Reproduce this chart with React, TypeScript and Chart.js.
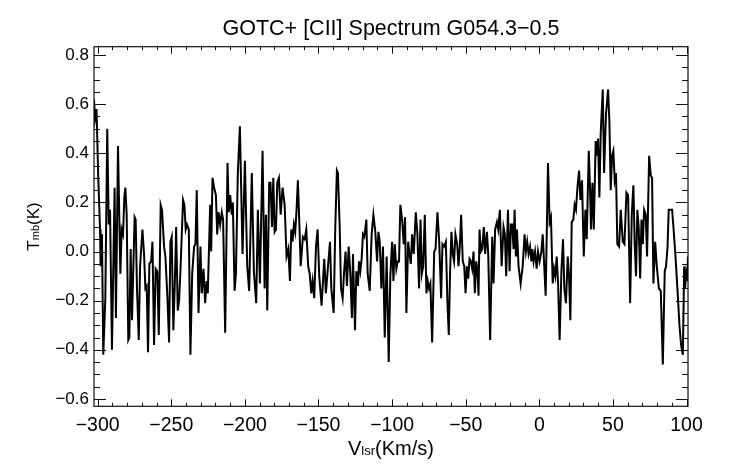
import React, { useEffect, useRef } from "react";
import { Chart, registerables } from "chart.js";

Chart.register(...registerables);

const TITLE = "GOTC+ [CII] Spectrum G054.3\u22120.5";
const X_TICKS = [-300, -250, -200, -150, -100, -50, 0, 50, 100];
const Y_TICKS = [-0.6, -0.4, -0.2, 0.0, 0.2, 0.4, 0.6, 0.8];
const X_MINOR = 10;
const Y_MINOR = 0.05;
const X_MIN = -302.5;
const X_MAX = 101;
const Y_MIN = -0.63;
const Y_MAX = 0.834;

// Spectrum in six segments (velocity km/s, Tmb K)
const VEL_1 = [
  -302.5, -301.8, -300.8, -299.6, -298.4, -298.0, -297.1, -296.2, -294.8, -293.5,
  -292.5, -291.6, -290.3, -288.5, -287.6, -286.2, -284.6, -283.7, -282.8, -281.9,
  -281.2, -280.3, -279.2, -278.5, -277.6, -276.7, -274.9, -274.2, -273.3, -272.1,
  -271.2, -269.6, -268.5, -267.6, -266.7, -265.8, -264.9, -263.7, -262.8, -261.7,
  -260.6, -259.5, -258.5, -257.2, -256.3, -254.9, -254.0, -252.6, -251.5, -250.6,
  -249.7, -248.6, -247.6, -246.7, -245.6, -244.7, -243.8, -242.0, -241.1, -240.2,
  -239.3, -238.1, -237.0, -235.8, -234.5, -233.6,
];
const TMB_1 = [
  0.62, 0.54, 0.58, 0.30, 0.09, -0.06, 0.07, -0.42, -0.19, 0.50,
  0.11, 0.17, -0.40, 0.26, -0.27, 0.43, -0.09, 0.09, 0.07, 0.22,
  0.26, 0.15, -0.36, -0.35, 0.01, -0.28, 0.14, 0.13, -0.15, -0.36,
  -0.06, 0.09, -0.01, -0.15, -0.14, -0.41, -0.05, -0.04, 0.04, -0.38,
  -0.07, -0.08, -0.34, 0.19, 0.17, 0.02, -0.02, -0.19, -0.37, 0.04,
  0.06, -0.32, -0.13, 0.10, -0.24, -0.20, -0.08, 0.21, 0.19, 0.09,
  0.11, 0.09, -0.42, -0.09, 0.02, 0.03,
];

const VEL_2 = [
  -232.7, -231.5, -230.2, -229.3, -228.1, -227.0, -226.0, -225.2, -223.6, -222.9,
  -222.0, -220.9, -219.7, -218.8, -217.9, -216.8, -215.7, -214.8, -213.4, -211.8,
  -210.9, -210.0, -208.9, -208.2, -207.0, -206.1, -204.8, -203.4, -201.6, -200.0,
  -198.4, -197.1, -195.3, -193.9, -192.3, -191.2, -189.8, -188.0, -186.6, -185.7,
  -184.8, -183.5, -182.6, -181.6, -180.7, -179.8, -178.9, -178.0, -176.9, -175.7,
  -174.4, -173.0, -171.7, -170.5, -169.4, -168.5, -167.6, -166.7, -165.8, -164.9,
  -164.0, -163.1, -162.1,
];
const TMB_2 = [
  0.25, -0.25, 0.02, -0.17, -0.07, -0.21, -0.12, -0.17, 0.19, 0.00,
  0.30, 0.26, 0.23, 0.07, 0.16, 0.11, 0.16, 0.13, -0.33, 0.36,
  0.16, 0.23, 0.15, 0.20, -0.16, -0.09, 0.32, 0.51, -0.01, 0.37,
  -0.06, -0.16, 0.32, -0.08, -0.21, 0.17, -0.13, 0.41, -0.15, 0.15,
  -0.24, 0.28, 0.28, 0.10, 0.30, 0.08, 0.09, 0.28, 0.30, 0.15,
  0.26, 0.19, -0.02, 0.01, -0.12, 0.09, 0.04, 0.11, 0.08, 0.17,
  0.29, 0.13, -0.06,
];

const VEL_3 = [
  -160.6, -159.4, -158.3, -157.0, -156.0, -154.9, -154.0, -152.9, -151.7, -150.6,
  -149.5, -147.9, -146.1, -145.0, -143.8, -142.2, -141.3, -139.7, -138.6, -137.5,
  -136.8, -135.6, -134.7, -133.6, -132.7, -131.6, -130.7, -129.5, -128.4, -127.3,
  -126.6, -125.2, -124.3, -123.2, -122.5, -121.6, -120.7, -119.8, -118.9, -117.5,
  -116.6, -115.2, -113.9, -112.7, -111.4, -110.2, -109.3, -108.4, -107.3, -106.2,
  -105.0, -103.7, -102.3, -101.2, -100.0, -99.1, -98.2, -97.1, -96.2, -95.3,
  -94.4, -93.2, -92.1, -91.2, -90.3,
];
const TMB_3 = [
  0.06, 0.05, 0.09, -0.06, -0.09, -0.17, -0.12, -0.19, 0.02, 0.09,
  -0.10, -0.22, -0.03, -0.17, -0.08, 0.04, -0.15, -0.25, 0.10, 0.33,
  0.32, 0.10, -0.15, -0.19, -0.09, 0.00, -0.14, 0.02, -0.09, -0.27,
  -0.01, -0.32, -0.08, -0.14, -0.04, -0.08, -0.03, 0.07, 0.06, 0.13,
  -0.09, -0.16, 0.07, 0.15, 0.08, -0.04, 0.08, 0.04, -0.15, 0.02,
  -0.35, -0.02, -0.45, -0.10, 0.04, -0.12, 0.03, -0.07, -0.04, -0.04,
  0.19, 0.13, 0.03, 0.14, -0.25,
];

const VEL_4 = [
  -89.1, -88.2, -87.3, -86.4, -85.3, -83.9, -82.8, -81.7, -80.7, -79.8,
  -78.9, -77.8, -76.7, -75.8, -74.9, -74.0, -72.8, -71.4, -70.5, -69.2,
  -68.0, -66.7, -65.8, -64.7, -63.5, -62.4, -61.5, -60.6, -59.7, -58.8,
  -57.9, -57.0, -55.8, -54.9, -54.0, -53.1, -52.0, -51.0, -50.1, -49.2,
  -48.3, -47.4, -46.5, -45.6, -44.7, -43.8, -42.9, -42.0, -41.3, -40.6,
  -39.7, -38.8, -37.7, -36.8, -35.6, -34.7, -33.4, -32.0, -31.1, -30.0,
  -28.8, -27.9, -26.8, -25.6, -24.3, -23.4, -22.5, -21.3, -20.2,
];
const TMB_4 = [
  0.04, -0.01, -0.05, 0.07, -0.01, 0.16, 0.07, -0.15, 0.13, -0.09,
  -0.06, 0.15, -0.17, -0.12, -0.15, -0.13, -0.37, 0.00, 0.01, 0.16,
  0.04, -0.19, 0.03, 0.02, 0.04, -0.21, -0.34, -0.08, 0.08, -0.01,
  -0.04, 0.07, 0.03, -0.06, 0.02, 0.15, -0.04, -0.06, -0.17, -0.06,
  -0.11, -0.03, -0.04, -0.07, 0.00, -0.17, -0.04, -0.08, -0.18, 0.09,
  0.00, 0.01, 0.10, -0.01, 0.08, -0.01, -0.36, 0.06, -0.13, 0.09,
  0.12, 0.09, 0.17, -0.06, 0.10, 0.07, -0.10, 0.17, -0.08,
];

const VEL_5 = [
  -19.3, -18.4, -17.5, -16.8, -15.9, -15.2, -14.1, -12.7, -11.3, -10.0,
  -9.1, -8.2, -7.3, -6.3, -5.4, -4.7, -3.9, -2.9, -1.8, -0.9,
  0.2, 1.4, 2.3, 3.2, 4.3, 5.9, 7.0, 7.9, 9.1, 10.0,
  10.9, 11.8, 12.7, 13.8, 15.0, 16.1, 17.0, 18.1, 19.3, 20.2,
  21.1, 22.0, 23.1, 24.0, 24.9, 25.9, 27.0, 27.9, 29.0, 30.2,
  31.3, 32.2, 33.6, 34.5, 35.1, 36.1, 37.0, 38.3, 39.2, 39.9,
  40.8,
];
const TMB_5 = [
  0.11, 0.11, 0.01, 0.17, -0.02, 0.09, -0.06, -0.13, -0.06, 0.07,
  0.00, 0.04, -0.01, 0.02, -0.04, 0.01, -0.04, 0.00, -0.07, 0.00,
  -0.04, 0.00, 0.07, -0.04, -0.18, 0.36, 0.12, 0.14, -0.13, -0.07,
  -0.10, -0.02, -0.12, -0.36, -0.08, 0.05, -0.15, -0.21, -0.02, -0.10,
  -0.28, 0.12, 0.13, 0.19, 0.17, 0.26, 0.33, 0.21, 0.29, -0.02,
  0.17, 0.05, 0.41, 0.25, 0.09, 0.28, 0.09, 0.45, 0.39, 0.46,
  0.22,
];

const VEL_6 = [
  41.7, 43.1, 44.0, 45.3, 46.7, 47.6, 48.5, 49.4, 50.3, 51.2,
  52.1, 53.0, 54.2, 55.3, 56.7, 57.8, 59.2, 60.3, 61.7, 62.8,
  63.9, 64.8, 65.7, 66.6, 67.5, 68.5, 69.4, 70.3, 71.2, 72.3,
  73.2, 74.6, 75.7, 76.6, 77.5, 78.7, 79.8, 81.2, 82.5, 83.9,
  85.2, 86.1, 87.1, 87.9, 89.3, 90.2, 91.1, 92.5, 93.9, 95.2,
  96.3, 97.5, 98.4, 99.0, 99.7, 100.4, 101.0,
];
const TMB_6 = [
  0.48, 0.66, 0.32, 0.56, 0.66, 0.53, 0.25, 0.39, 0.41, 0.29,
  0.32, 0.03, 0.02, 0.17, 0.04, 0.03, 0.24, 0.23, -0.21, 0.15,
  0.27, 0.03, -0.10, 0.17, 0.10, -0.11, 0.13, 0.03, 0.17, 0.15,
  -0.02, 0.39, 0.31, 0.30, -0.13, 0.04, -0.06, -0.15, -0.16, -0.46,
  -0.08, -0.06, 0.02, 0.17, 0.17, 0.17, 0.10, -0.02, -0.16, -0.30,
  -0.38, -0.42, -0.06, -0.15, -0.09, -0.12, -0.02,
];

const VELOCITY = [...VEL_1, ...VEL_2, ...VEL_3, ...VEL_4, ...VEL_5, ...VEL_6];
const TMB = [...TMB_1, ...TMB_2, ...TMB_3, ...TMB_4, ...TMB_5, ...TMB_6];

const FONT = "'Liberation Sans', Arial, Helvetica, sans-serif";
const minus = (s: string) => s.replace("-", "\u2212");

const framePlugin = {
  id: "idlFrame",
  afterDraw(chart: any) {
    const { ctx, chartArea: a, scales } = chart;
    const xs = scales.x;
    const ys = scales.y;
    ctx.save();
    ctx.strokeStyle = "#111";
    ctx.lineWidth = 1.2;
    ctx.strokeRect(a.left, a.top, a.right - a.left, a.bottom - a.top);

    ctx.lineWidth = 1;
    ctx.beginPath();
    const x0 = X_TICKS[0];
    const x1 = X_TICKS[X_TICKS.length - 1];
    const nx = Math.round((x1 - x0) / X_MINOR);
    for (let i = 0; i <= nx; i++) {
      const v = x0 + i * X_MINOR;
      const px = Math.round(xs.getPixelForValue(v)) + 0.5;
      const major = X_TICKS.includes(v);
      const len = major ? 7 : 3.5;
      ctx.moveTo(px, a.bottom);
      ctx.lineTo(px, a.bottom - len);
      ctx.moveTo(px, a.top);
      ctx.lineTo(px, a.top + len);
    }
    const y0 = Y_TICKS[0];
    const y1 = Y_TICKS[Y_TICKS.length - 1];
    const ny = Math.round((y1 - y0) / Y_MINOR);
    for (let i = 0; i <= ny; i++) {
      const v = y0 + i * Y_MINOR;
      const py = Math.round(ys.getPixelForValue(v)) + 0.5;
      const major = i % 4 === 0;
      const len = major ? 12 : 6;
      ctx.moveTo(a.left, py);
      ctx.lineTo(a.left + len, py);
      ctx.moveTo(a.right, py);
      ctx.lineTo(a.right - len, py);
    }
    ctx.stroke();

    // axis titles with subscripts
    ctx.fillStyle = "#000";
    ctx.textBaseline = "alphabetic";
    ctx.textAlign = "left";
    const big = `20px ${FONT}`;
    const small = `13px ${FONT}`;
    const parts: [string, string][] = [
      ["V", big],
      ["lsr", small],
      ["(Km/s)", big],
    ];
    let total = 0;
    for (const [t, f] of parts) {
      ctx.font = f;
      total += ctx.measureText(t).width;
    }
    let cx = (a.left + a.right) / 2 - total / 2;
    for (const [t, f] of parts) {
      ctx.font = f;
      ctx.fillText(t, cx, 455);
      cx += ctx.measureText(t).width;
    }

    const ybig = `17px ${FONT}`;
    const ysmall = `11px ${FONT}`;
    const yparts: [string, string][] = [
      ["T", ybig],
      ["mb", ysmall],
      ["(K)", ybig],
    ];
    let ytotal = 0;
    for (const [t, f] of yparts) {
      ctx.font = f;
      ytotal += ctx.measureText(t).width;
    }
    ctx.translate(38.5, (a.top + a.bottom) / 2);
    ctx.rotate(-Math.PI / 2);
    let cy = -ytotal / 2;
    for (const [t, f] of yparts) {
      ctx.font = f;
      ctx.fillText(t, cy, 0);
      cy += ctx.measureText(t).width;
    }
    ctx.restore();
  },
};

export default function App() {
  const ref = useRef<HTMLCanvasElement | null>(null);

  useEffect(() => {
    if (!ref.current) return;
    const points = VELOCITY.map((v, i) => ({ x: v, y: TMB[i] }));
    const chart = new Chart(ref.current, {
      type: "line",
      data: {
        datasets: [
          {
            data: points,
            borderColor: "#000",
            borderWidth: 2,
            pointRadius: 0,
            tension: 0,
            fill: false,
          },
        ],
      },
      options: {
        animation: false,
        responsive: false,
        devicePixelRatio: 1,
        layout: { padding: { left: 0, right: 54, top: 0, bottom: 0 } },
        plugins: {
          legend: { display: false },
          tooltip: { enabled: false },
          title: {
            display: true,
            text: TITLE,
            color: "#000",
            fullSize: false,
            font: { family: FONT, size: 21.5, weight: "normal" },
            padding: { top: 16.6, bottom: 4.3 },
          },
        },
        scales: {
          x: {
            type: "linear",
            min: X_MIN,
            max: X_MAX,
            grid: { display: false, drawTicks: false },
            border: { display: false },
            afterBuildTicks: (s: any) => {
              s.ticks = X_TICKS.map((v) => ({ value: v }));
            },
            afterFit: (s: any) => {
              s.height = 57.7;
            },
            ticks: {
              color: "#000",
              padding: 8,
              maxRotation: 0,
              autoSkip: false,
              font: { family: FONT, size: 19.5 },
              callback: (v: any) => minus(String(v)),
            },
          },
          y: {
            type: "linear",
            min: Y_MIN,
            max: Y_MAX,
            grid: { display: false, drawTicks: false },
            border: { display: false },
            afterBuildTicks: (s: any) => {
              s.ticks = Y_TICKS.map((v) => ({ value: v }));
            },
            afterFit: (s: any) => {
              s.width = 94;
            },
            ticks: {
              color: "#000",
              padding: 5,
              autoSkip: false,
              font: { family: FONT, size: 17, lineHeight: 1 },
              callback: (v: any) => minus(Number(v).toFixed(1)),
            },
          },
        },
      },
      plugins: [framePlugin],
    });
    return () => chart.destroy();
  }, []);

  return (
    <div
      style={{
        position: "absolute",
        left: 0,
        top: 0,
        width: 742,
        height: 464,
        background: "#fff",
      }}
    >
      <canvas ref={ref} width={742} height={464} style={{ width: 742, height: 464 }} />
    </div>
  );
}
